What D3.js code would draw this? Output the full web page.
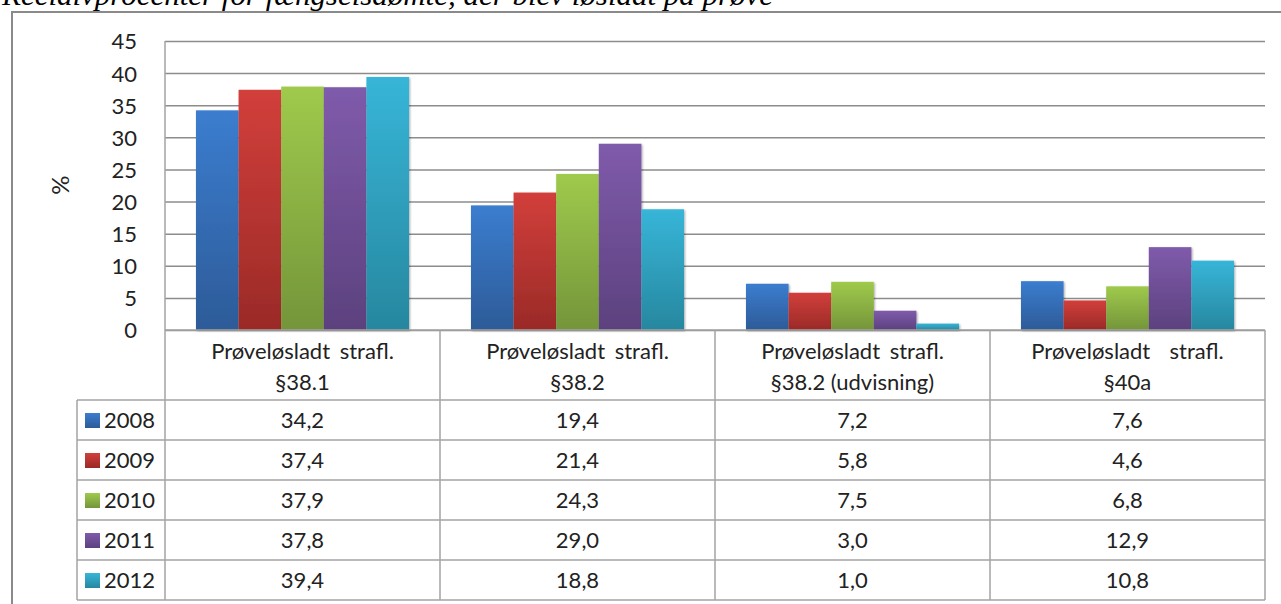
<!DOCTYPE html>
<html>
<head>
<meta charset="utf-8">
<script src="https://cdn.jsdelivr.net/npm/d3@7"></script>
<style>
  body { margin: 0; background: #fff; }
  svg { display: block; }
  .lbl { font-family: Lato, "Liberation Sans", sans-serif; font-size: 22px; fill: #222; }
</style>
</head>
<body>
<svg id="chart" width="1281" height="604"></svg>
<script>
// data
var categories = [
    ["Prøveløsladt strafl.", "§38.1"],
    ["Prøveløsladt strafl.", "§38.2"],
    ["Prøveløsladt strafl.", "§38.2 (udvisning)"],
    ["Prøveløsladt  strafl.", "§40a"]
];
var years = ["2008", "2009", "2010", "2011", "2012"];
var v2008 = [34.2, 19.4, 7.2, 7.6];
var v2009 = [37.4, 21.4, 5.8, 4.6];
var v2010 = [37.9, 24.3, 7.5, 6.8];
var v2011 = [37.8, 29.0, 3.0, 12.9];
var v2012 = [39.4, 18.8, 1.0, 10.8];
var yTicks = [0, 5, 10, 15, 20, 25, 30, 35, 40, 45];
var title = "Recidivprocenter for fængselsdømte, der blev løsladt på prøve";

var series = [v2008, v2009, v2010, v2011, v2012];
var colors = {
    "2008": ["#3b7dcf", "#2d5b98"],
    "2009": ["#d23f3b", "#9a2a27"],
    "2010": ["#9fca4c", "#74953a"],
    "2011": ["#7f5bab", "#5c417e"],
    "2012": ["#37b5d8", "#27879f"]
};

var svg = d3.select("#chart");
var margin = { top: 41, left: 165, right: 1265, bottom: 330 };
var tableBottom = 600;
var legendLeft = 77;

var defs = svg.append("defs");
years.forEach(function(yr) {
    var g = defs.append("linearGradient")
        .attr("id", "grad" + yr)
        .attr("x1", 0).attr("y1", 0).attr("x2", 0).attr("y2", 1);
    g.append("stop").attr("offset", "0%").attr("stop-color", colors[yr][0]);
    g.append("stop").attr("offset", "100%").attr("stop-color", colors[yr][1]);
});
var f = defs.append("filter").attr("id", "shadow")
    .attr("x", "-10%").attr("y", "-10%").attr("width", "130%").attr("height", "130%");
f.append("feDropShadow").attr("dx", 1).attr("dy", 1).attr("stdDeviation", 1.2)
    .attr("flood-color", "#000").attr("flood-opacity", 0.35);

// title (its top is cut by the page edge, as in the source)
svg.append("text")
    .attr("x", 2).attr("y", 5)
    .attr("textLength", 771)
    .attr("lengthAdjust", "spacingAndGlyphs")
    .style("font-family", "'Liberation Serif', 'DejaVu Serif', serif")
    .style("font-style", "italic")
    .style("font-size", "29px")
    .style("fill", "#000")
    .text(title);

// outer frame
svg.append("path")
    .attr("d", "M12,620 L12,12 L1290,12")
    .attr("fill", "none")
    .attr("stroke", "#8a8a8a")
    .attr("stroke-width", 2);

var x0 = d3.scaleBand()
    .domain(d3.range(categories.length))
    .range([margin.left, margin.right]);
var x1 = d3.scaleBand()
    .domain(years)
    .range([0, x0.bandwidth()])
    .paddingOuter(0.727);
var y = d3.scaleLinear()
    .domain([0, 45])
    .range([margin.bottom, margin.top]);

// gridlines + tick labels
var yAxis = d3.axisLeft(y)
    .tickValues(yTicks)
    .tickSize(-(margin.right - margin.left))
    .tickPadding(28)
    .tickFormat(d3.format("d"));
var ax = svg.append("g")
    .attr("transform", "translate(" + margin.left + ",0)")
    .call(yAxis);
ax.select(".domain").remove();
ax.selectAll(".tick line").attr("stroke", "#8c8c8c").attr("stroke-width", 1.5);
ax.selectAll(".tick text").attr("class", "lbl")
    .attr("fill", "#222").attr("dy", "0.36em");

svg.append("text")
    .attr("class", "lbl")
    .attr("transform", "translate(69,185) rotate(-90)")
    .attr("text-anchor", "middle")
    .style("font-size", "24px")
    .text("%");

// bars
var groups = svg.append("g").selectAll("g")
    .data(categories)
    .join("g")
    .attr("transform", function(d, i) { return "translate(" + x0(i) + ",0)"; });
groups.selectAll("rect")
    .data(function(d, i) {
        return years.map(function(yr, k) { return { year: yr, value: series[k][i] }; });
    })
    .join("rect")
    .attr("x", function(d) { return x1(d.year); })
    .attr("y", function(d) { return y(d.value); })
    .attr("width", x1.bandwidth())
    .attr("height", function(d) { return y(0) - y(d.value); })
    .attr("fill", function(d) { return "url(#grad" + d.year + ")"; })
    .attr("filter", "url(#shadow)");

// data table
var rowY = d3.scaleBand().domain(years).range([400, tableBottom]);
var lineColor = "#a3a3a3";
var table = svg.append("g").attr("stroke", lineColor).attr("stroke-width", 1.5);

// vertical lines
table.append("line")
    .attr("x1", margin.left).attr("x2", margin.left)
    .attr("y1", margin.top).attr("y2", tableBottom);
d3.range(1, categories.length + 1).forEach(function(i) {
    var xx = i < categories.length ? x0(i) : margin.right;
    table.append("line")
        .attr("x1", xx).attr("x2", xx)
        .attr("y1", margin.bottom).attr("y2", tableBottom);
});
table.append("line")
    .attr("x1", legendLeft).attr("x2", legendLeft)
    .attr("y1", rowY(years[0])).attr("y2", tableBottom);
// horizontal lines
table.append("line")
    .attr("x1", margin.left).attr("x2", margin.right)
    .attr("y1", margin.bottom).attr("y2", margin.bottom);
years.forEach(function(yr) {
    table.append("line")
        .attr("x1", legendLeft).attr("x2", margin.right)
        .attr("y1", rowY(yr)).attr("y2", rowY(yr));
});
table.append("line")
    .attr("x1", legendLeft).attr("x2", margin.right)
    .attr("y1", tableBottom).attr("y2", tableBottom);

// category header
categories.forEach(function(lines, i) {
    var t = svg.append("text")
        .attr("class", "lbl")
        .attr("text-anchor", "middle")
        .attr("xml:space", "preserve")
        .style("white-space", "pre")
        .attr("x", x0(i) + x0.bandwidth() / 2)
        .attr("y", 359);
    lines.forEach(function(s, k) {
        t.append("tspan")
            .attr("x", x0(i) + x0.bandwidth() / 2)
            .attr("dy", k === 0 ? 0 : 31)
            .style("word-spacing", k === 0 ? "4px" : "0px")
            .text(s);
    });
});

// legend keys + values
var fmt = function(v) { return v.toFixed(1).replace(".", ","); };
years.forEach(function(yr, k) {
    var cy = rowY(yr) + rowY.bandwidth() / 2;
    svg.append("rect")
        .attr("x", 85).attr("y", cy - 7)
        .attr("width", 15).attr("height", 15)
        .attr("fill", "url(#grad" + yr + ")");
    svg.append("text")
        .attr("class", "lbl")
        .attr("x", 104).attr("y", cy)
        .attr("dy", "0.36em")
        .text(yr);
    series[k].forEach(function(v, i) {
        svg.append("text")
            .attr("class", "lbl")
            .attr("text-anchor", "middle")
            .attr("x", x0(i) + x0.bandwidth() / 2)
            .attr("y", cy)
            .attr("dy", "0.36em")
            .text(fmt(v));
    });
});
</script>
</body>
</html>
